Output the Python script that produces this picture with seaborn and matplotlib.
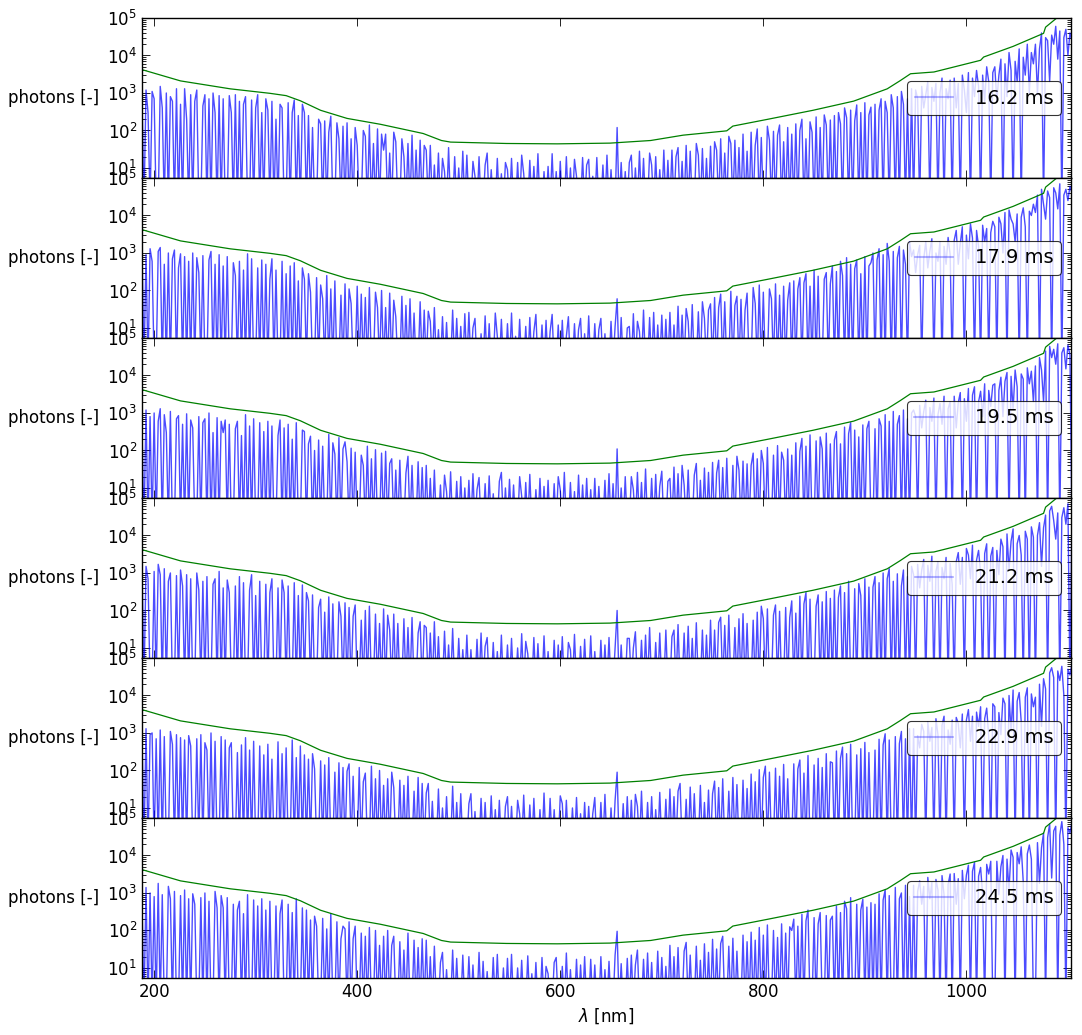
import numpy as np
import matplotlib
matplotlib.use("Agg")
import matplotlib.pyplot as plt
from matplotlib.ticker import LogLocator, NullFormatter
import seaborn as sns

# ---------------- data ----------------
# wavelength grid of the sampled spectra (nm), 2 nm step, 20 samples per row
WL_START = 188
WL_STEP = 2
ROW_LEN = 20

# detection-limit curve (green)
LIMIT_WL = [188, 226, 275, 314, 330, 344, 364, 390, 423, 465, 483, 492, 547, 597,
            649, 689, 721, 761, 764, 770, 804, 849, 889, 922, 935, 945, 968, 1014,
            1017, 1046, 1076, 1078, 1089, 1103]
LIMIT_VAL = [4200, 2100, 1290, 980, 850, 620, 345, 210, 146, 83, 54, 49, 45, 44,
             46, 54, 75, 96, 98, 131, 198, 346, 607, 1290, 2150, 3260, 3630, 7450,
             9100, 17500, 39000, 57000, 100000, 100000]

EXPOSURES = ["16.2 ms", "17.9 ms", "19.5 ms", "21.2 ms", "22.9 ms", "24.5 ms"]

photons_16_2 = [
    [900, 1, 1200, 300, 1, 1100, 700, 1, 1, 1500, 400, 1, 1000, 1, 800, 600, 1, 1300, 1, 500],
    [1, 1300, 200, 1, 900, 1, 600, 1200, 1, 1, 450, 900, 1, 700, 1, 1000, 300, 1, 850, 1],
    [700, 1, 1, 850, 300, 1, 900, 1, 600, 1, 500, 800, 1, 1, 650, 1, 400, 900, 1, 300],
    [1, 700, 350, 1, 600, 1, 200, 1, 500, 400, 1, 1, 550, 1, 300, 650, 1, 250, 1, 500],
    [300, 1, 250, 1, 120, 1, 1, 200, 150, 1, 180, 1, 90, 240, 1, 1, 160, 60, 1, 130],
    [1, 160, 1, 60, 1, 120, 40, 1, 1, 100, 70, 1, 140, 1, 45, 1, 110, 1, 80, 30],
    [80, 1, 25, 1, 90, 50, 1, 1, 60, 20, 1, 45, 1, 75, 1, 30, 1, 55, 1, 40],
    [30, 1, 40, 1, 12, 1, 25, 1, 18, 8, 1, 35, 1, 1, 20, 1, 10, 1, 28, 1],
    [22, 1, 1, 15, 6, 1, 20, 1, 1, 12, 25, 1, 9, 1, 1, 18, 1, 7, 1, 14],
    [9, 1, 18, 1, 1, 14, 1, 22, 7, 1, 1, 16, 1, 11, 1, 24, 1, 1, 8, 1],
    [11, 1, 24, 1, 8, 1, 15, 1, 1, 20, 1, 10, 1, 17, 6, 1, 1, 19, 1, 12],
    [17, 1, 6, 1, 19, 1, 1, 12, 1, 22, 1, 9, 1, 1, 120, 1, 14, 1, 8, 1],
    [14, 22, 1, 10, 1, 28, 1, 18, 1, 1, 25, 12, 1, 20, 1, 9, 1, 30, 1, 16],
    [1, 30, 1, 20, 35, 1, 15, 1, 40, 1, 28, 1, 1, 45, 22, 1, 33, 1, 18, 1],
    [38, 1, 50, 30, 1, 60, 1, 25, 1, 70, 45, 1, 55, 1, 35, 1, 80, 1, 28, 1],
    [90, 1, 40, 110, 1, 65, 1, 1, 130, 55, 1, 95, 1, 75, 140, 1, 50, 1, 120, 1],
    [80, 1, 150, 1, 100, 200, 1, 60, 1, 170, 90, 1, 230, 1, 120, 1, 260, 140, 1, 190],
    [1, 250, 1, 300, 150, 1, 400, 220, 1, 350, 1, 180, 480, 1, 300, 1, 550, 1, 260, 420],
    [1, 500, 1, 350, 700, 1, 600, 300, 1, 900, 400, 1, 800, 1, 1100, 500, 1, 700, 1, 1300],
    [1, 1200, 700, 1, 1500, 400, 900, 2000, 1, 1400, 600, 1800, 1, 1000, 2500, 1, 1300, 700, 2200, 1],
    [2500, 400, 1800, 1, 3000, 1200, 300, 3500, 1, 2500, 800, 4000, 1500, 1, 3000, 600, 5000, 2000, 1, 3500],
    [5000, 600, 3000, 8000, 1, 6000, 800, 12000, 4000, 1, 7000, 2000, 15000, 1, 9000, 3000, 20000, 1000, 12000, 6000],
    [20000, 900, 15000, 40000, 1, 30000, 25000, 2000, 35000, 20000, 60000, 8000, 45000, 1, 30000, 50000, 10000, 40000, 25000, 55000],
]

photons_17_9 = [
    [1800, 1, 900, 1, 1300, 600, 1, 1, 1100, 1400, 1, 500, 1, 1000, 1, 700, 1200, 1, 400, 950],
    [1, 800, 1, 600, 1, 1000, 1, 750, 300, 1, 850, 1, 1, 650, 1100, 1, 500, 1, 900, 1],
    [450, 1, 800, 1, 1, 550, 250, 1, 600, 1, 350, 1, 950, 1, 700, 1, 1, 400, 1, 650],
    [1, 500, 1, 200, 700, 1, 350, 1, 1, 600, 1, 280, 1, 450, 1, 550, 1, 180, 1, 400],
    [200, 1, 280, 90, 1, 1, 220, 1, 140, 60, 1, 250, 1, 110, 1, 180, 1, 1, 75, 1],
    [150, 1, 110, 45, 1, 1, 130, 1, 80, 1, 65, 1, 120, 1, 1, 90, 35, 1, 100, 1],
    [35, 1, 85, 1, 55, 20, 1, 1, 70, 1, 40, 1, 60, 1, 25, 1, 1, 50, 1, 30],
    [1, 28, 15, 1, 35, 1, 9, 1, 20, 1, 14, 1, 1, 30, 1, 18, 1, 11, 1, 24],
    [1, 26, 1, 10, 18, 1, 1, 7, 1, 21, 1, 13, 1, 1, 25, 6, 1, 17, 1, 1],
    [13, 1, 25, 1, 6, 1, 17, 1, 1, 11, 1, 19, 1, 8, 23, 1, 1, 12, 1, 16],
    [1, 8, 23, 1, 1, 12, 1, 16, 1, 6, 20, 1, 1, 13, 1, 9, 18, 1, 7, 1],
    [21, 1, 1, 13, 1, 9, 18, 1, 7, 1, 1, 15, 1, 11, 60, 1, 19, 1, 1, 10],
    [11, 1, 24, 1, 15, 8, 1, 30, 1, 1, 19, 1, 26, 1, 12, 1, 22, 1, 17, 1],
    [26, 1, 12, 1, 38, 1, 22, 1, 33, 15, 1, 42, 1, 1, 27, 1, 50, 18, 1, 30],
    [44, 1, 65, 1, 35, 80, 1, 50, 1, 1, 95, 1, 40, 70, 1, 58, 1, 30, 85, 1],
    [1, 120, 45, 1, 140, 1, 90, 1, 1, 110, 60, 1, 150, 1, 75, 1, 130, 1, 55, 160],
    [1, 180, 1, 110, 220, 1, 160, 280, 1, 130, 1, 350, 1, 240, 1, 1, 200, 300, 1, 150],
    [450, 1, 320, 1, 600, 250, 1, 750, 1, 500, 1, 380, 650, 1, 280, 1, 800, 1, 450, 550],
    [1000, 1, 650, 1300, 1, 900, 1, 1800, 600, 1, 1100, 1, 750, 1500, 1, 1200, 500, 1, 2000, 800],
    [1200, 300, 900, 1600, 1, 700, 2000, 400, 1100, 2400, 1, 1000, 600, 2000, 1, 1500, 500, 2600, 900, 1],
    [2200, 4000, 500, 1800, 5000, 1, 3000, 700, 6000, 2500, 1, 4000, 1500, 1, 5500, 2000, 4500, 1, 3500, 7000],
    [5000, 1, 9000, 6000, 1000, 12000, 1, 14000, 8000, 6000, 2000, 11000, 1, 9000, 16000, 5000, 1, 13000, 10000, 20000],
    [12000, 35000, 1, 50000, 20000, 8000, 45000, 30000, 1, 55000, 40000, 15000, 70000, 1, 35000, 50000, 25000, 60000, 40000, 30000],
]

photons_19_5 = [
    [400, 1, 1200, 1, 800, 1, 1000, 1, 600, 1300, 1, 900, 300, 1, 1100, 1, 1, 700, 850, 1],
    [500, 1, 950, 1, 650, 400, 1, 1, 800, 1, 550, 700, 1, 1000, 1, 300, 1, 750, 1, 600],
    [300, 650, 1, 500, 1, 1, 380, 600, 1, 250, 1, 900, 1, 450, 1, 700, 1, 1, 550, 1],
    [320, 1, 600, 1, 450, 1, 1, 250, 650, 1, 400, 1, 500, 1, 200, 1, 550, 1, 1, 350],
    [320, 1, 150, 240, 1, 100, 1, 190, 1, 130, 1, 1, 270, 1, 160, 80, 1, 220, 1, 110],
    [170, 50, 1, 115, 1, 90, 1, 1, 75, 40, 1, 130, 1, 60, 1, 105, 1, 1, 85, 1],
    [95, 1, 45, 60, 1, 30, 1, 55, 1, 1, 25, 70, 1, 40, 1, 1, 50, 1, 35, 1],
    [40, 1, 18, 1, 30, 1, 1, 12, 1, 22, 8, 1, 27, 1, 1, 15, 1, 20, 1, 10],
    [1, 16, 1, 24, 1, 9, 19, 1, 1, 13, 1, 21, 1, 7, 1, 1, 15, 26, 1, 10],
    [1, 17, 1, 12, 1, 1, 20, 6, 1, 14, 1, 23, 1, 1, 9, 1, 18, 1, 11, 1],
    [16, 1, 1, 13, 1, 20, 9, 1, 26, 1, 1, 14, 1, 8, 1, 22, 1, 12, 1, 18],
    [1, 9, 1, 18, 1, 11, 1, 1, 16, 1, 24, 1, 13, 1, 110, 1, 10, 1, 20, 1],
    [1, 20, 9, 1, 26, 1, 14, 1, 32, 1, 1, 18, 1, 23, 1, 11, 28, 1, 1, 15],
    [18, 1, 36, 1, 24, 1, 40, 12, 1, 30, 1, 1, 22, 45, 1, 16, 1, 34, 1, 26],
    [1, 48, 1, 25, 55, 1, 35, 1, 62, 1, 1, 40, 1, 70, 30, 1, 52, 1, 44, 1],
    [40, 85, 1, 60, 1, 100, 45, 1, 120, 1, 1, 75, 1, 135, 1, 90, 55, 1, 110, 1],
    [75, 1, 160, 1, 95, 210, 1, 130, 1, 260, 1, 1, 180, 1, 230, 110, 1, 290, 1, 150],
    [1, 190, 320, 1, 150, 1, 420, 1, 280, 550, 1, 350, 1, 230, 1, 480, 1, 380, 600, 1],
    [1, 380, 1, 700, 450, 1, 900, 1, 600, 1, 1100, 1, 500, 850, 1, 1200, 1, 700, 1, 1000],
    [1200, 800, 1, 1600, 400, 1100, 2200, 1, 1400, 600, 2500, 1, 900, 1800, 500, 2800, 1, 1300, 2000, 1],
    [2800, 400, 1900, 3500, 1, 2400, 600, 4500, 1, 3000, 5000, 1, 2000, 3800, 800, 6000, 1, 4000, 1500, 5500],
    [6000, 1, 4000, 9000, 800, 7000, 12000, 1, 9500, 1200, 14000, 5000, 1, 11000, 8000, 1, 16000, 6000, 13000, 2000],
    [18000, 1, 30000, 14000, 2000, 45000, 1, 60000, 30000, 50000, 20000, 70000, 1, 40000, 55000, 15000, 65000, 35000, 1, 50000],
]

photons_21_2 = [
    [2000, 1, 1500, 700, 1, 1, 1100, 1, 1700, 900, 1, 1300, 1, 600, 1000, 1, 1, 850, 1, 1200],
    [450, 1, 900, 1, 700, 1, 1, 1000, 350, 1, 600, 1, 800, 1, 1, 500, 700, 1, 1100, 1],
    [400, 1, 650, 300, 1, 1, 450, 1, 800, 1, 550, 1, 1, 350, 900, 1, 250, 1, 600, 1],
    [1, 500, 1, 300, 700, 1, 1, 400, 1, 650, 300, 1, 450, 1, 1, 550, 1, 250, 1, 480],
    [1, 300, 180, 1, 260, 1, 1, 120, 200, 1, 90, 1, 230, 1, 150, 1, 1, 170, 70, 1],
    [160, 1, 120, 1, 70, 140, 1, 1, 55, 1, 100, 1, 130, 1, 1, 80, 1, 45, 1, 110],
    [1, 75, 30, 1, 80, 1, 45, 1, 1, 60, 1, 35, 1, 65, 1, 1, 25, 50, 1, 40],
    [35, 1, 25, 1, 50, 1, 20, 1, 1, 28, 1, 12, 1, 33, 1, 1, 18, 1, 9, 1],
    [22, 1, 9, 1, 1, 17, 1, 25, 1, 11, 19, 1, 1, 14, 1, 8, 1, 22, 1, 1],
    [12, 1, 18, 1, 1, 10, 1, 24, 1, 15, 7, 1, 1, 19, 1, 13, 1, 1, 21, 1],
    [8, 1, 1, 16, 1, 12, 1, 20, 1, 1, 14, 9, 1, 23, 1, 1, 11, 1, 17, 1],
    [1, 21, 1, 8, 1, 1, 16, 1, 12, 1, 19, 1, 1, 10, 100, 1, 12, 1, 1, 18],
    [18, 1, 10, 27, 1, 1, 16, 1, 22, 1, 35, 1, 1, 14, 1, 25, 1, 1, 30, 1],
    [1, 20, 30, 1, 42, 1, 1, 25, 1, 38, 1, 18, 1, 47, 1, 1, 30, 1, 22, 1],
    [55, 1, 30, 1, 48, 66, 1, 40, 1, 75, 1, 1, 35, 1, 60, 1, 82, 1, 45, 1],
    [1, 55, 1, 90, 1, 130, 60, 1, 110, 1, 1, 75, 140, 1, 95, 1, 1, 120, 1, 65],
    [180, 1, 85, 1, 240, 1, 150, 300, 1, 200, 1, 1, 130, 260, 1, 170, 1, 320, 1, 210],
    [1, 350, 1, 220, 450, 1, 300, 1, 600, 1, 1, 380, 1, 520, 250, 1, 700, 1, 420, 1],
    [420, 800, 1, 550, 1, 1000, 1, 700, 1300, 1, 600, 1, 950, 1, 450, 1200, 1, 800, 1, 1500],
    [900, 1, 1700, 400, 1200, 2300, 1, 1600, 600, 2800, 1, 1100, 2000, 1, 1400, 700, 2600, 1, 1800, 500],
    [1, 2000, 3500, 500, 2600, 1, 4500, 3000, 700, 5500, 1, 2200, 4000, 1000, 1, 3300, 6000, 1, 2800, 4800],
    [1, 4000, 900, 8000, 5000, 1, 11000, 1200, 7000, 15000, 1, 6000, 10000, 3000, 1, 13000, 8000, 1, 17000, 9000],
    [1, 10000, 22000, 1500, 16000, 35000, 1, 45000, 60000, 25000, 8000, 40000, 1, 30000, 55000, 20000, 70000, 1, 45000, 35000],
]

photons_22_9 = [
    [1100, 1, 1300, 1, 900, 1000, 1, 700, 1, 1200, 1, 800, 1, 1, 1100, 500, 1, 900, 1, 750],
    [1, 650, 1, 850, 450, 1, 1, 700, 1, 900, 1, 550, 350, 1, 1000, 1, 600, 1, 1, 800],
    [1, 650, 1, 400, 550, 1, 1, 300, 1, 480, 1, 750, 1, 350, 1, 600, 1, 1, 450, 1],
    [260, 1, 500, 1, 200, 1, 1, 580, 1, 280, 1, 400, 1, 1, 650, 1, 220, 1, 450, 1],
    [260, 1, 200, 1, 280, 110, 1, 1, 180, 1, 140, 1, 220, 1, 1, 90, 1, 160, 1, 120],
    [1, 95, 150, 1, 70, 1, 1, 120, 1, 50, 85, 1, 1, 130, 1, 60, 1, 100, 1, 40],
    [1, 60, 1, 90, 35, 1, 1, 55, 1, 40, 1, 70, 1, 1, 28, 1, 65, 1, 45, 1],
    [25, 45, 1, 15, 1, 1, 32, 1, 10, 1, 20, 1, 1, 38, 1, 14, 1, 24, 1, 1],
    [1, 13, 24, 1, 8, 1, 1, 18, 1, 14, 1, 1, 21, 1, 9, 1, 16, 1, 1, 11],
    [20, 1, 11, 1, 1, 16, 7, 1, 22, 1, 1, 12, 1, 18, 1, 1, 9, 1, 25, 1],
    [1, 18, 1, 9, 1, 1, 21, 13, 1, 16, 1, 1, 10, 1, 19, 1, 7, 1, 14, 1],
    [11, 1, 7, 19, 1, 1, 14, 1, 23, 1, 1, 10, 1, 16, 90, 1, 1, 13, 1, 20],
    [1, 16, 1, 23, 11, 1, 28, 1, 1, 14, 1, 20, 1, 9, 1, 26, 1, 1, 17, 1],
    [32, 1, 20, 1, 28, 45, 1, 1, 17, 1, 36, 1, 24, 1, 1, 40, 1, 14, 1, 30],
    [1, 24, 52, 1, 35, 1, 60, 1, 1, 28, 1, 65, 1, 42, 1, 1, 55, 1, 33, 1],
    [80, 1, 50, 1, 105, 1, 65, 130, 1, 90, 1, 1, 115, 1, 70, 1, 145, 1, 60, 1],
    [1, 150, 1, 110, 190, 1, 85, 1, 250, 1, 1, 140, 1, 210, 1, 120, 1, 280, 1, 170],
    [160, 1, 330, 1, 210, 420, 1, 280, 1, 500, 1, 1, 260, 1, 380, 1, 560, 1, 300, 1],
    [1, 350, 1, 680, 1, 480, 950, 1, 650, 1, 1, 800, 1, 520, 1100, 1, 700, 1, 1300, 1],
    [1300, 1, 850, 400, 1700, 1100, 1, 2000, 600, 1400, 1, 2400, 900, 1, 1600, 2800, 1, 1200, 500, 2200],
    [1, 2600, 1800, 400, 3200, 1, 2200, 4200, 600, 2800, 1, 3600, 1500, 5000, 1, 2400, 4600, 800, 1, 6000],
    [5000, 1, 3500, 900, 8500, 6000, 1, 10000, 1100, 14000, 1, 7000, 12000, 2000, 1, 9000, 16000, 1, 11000, 5000],
    [9000, 1, 20000, 1500, 28000, 15000, 1, 40000, 55000, 30000, 1, 45000, 25000, 60000, 10000, 1, 50000, 35000, 70000, 40000],
]

photons_24_5 = [
    [600, 1, 1400, 1, 1000, 1, 800, 1, 1800, 1, 900, 1, 1, 1500, 700, 1, 1100, 1, 1, 850],
    [1, 1200, 1, 700, 1, 950, 500, 1, 1, 750, 1, 1000, 1, 600, 1, 1, 1100, 400, 1, 850],
    [400, 1, 750, 1, 1, 500, 1, 350, 600, 1, 280, 1, 900, 1, 1, 650, 1, 450, 1, 700],
    [1, 350, 1, 600, 1, 1, 450, 1, 280, 650, 1, 1, 500, 1, 300, 1, 700, 1, 1, 400],
    [1, 350, 1, 190, 1, 240, 130, 1, 1, 210, 1, 110, 1, 280, 1, 1, 170, 1, 60, 130],
    [110, 1, 170, 1, 60, 130, 1, 1, 85, 1, 70, 1, 120, 1, 1, 100, 1, 40, 1, 70],
    [1, 100, 1, 40, 70, 1, 1, 50, 1, 30, 1, 85, 1, 1, 55, 1, 35, 1, 60, 1],
    [55, 1, 20, 1, 38, 1, 1, 14, 26, 1, 9, 1, 1, 30, 1, 18, 1, 1, 22, 1],
    [1, 20, 1, 12, 1, 1, 26, 1, 15, 1, 8, 1, 1, 19, 1, 23, 1, 1, 10, 1],
    [18, 1, 23, 1, 1, 10, 1, 16, 1, 1, 21, 1, 7, 1, 14, 1, 1, 19, 1, 11],
    [7, 1, 1, 14, 19, 1, 1, 11, 1, 25, 1, 9, 1, 1, 17, 1, 12, 1, 20, 1],
    [1, 17, 1, 12, 1, 1, 20, 1, 9, 1, 15, 1, 1, 22, 95, 1, 13, 1, 1, 18],
    [1, 22, 1, 12, 30, 1, 1, 17, 1, 25, 1, 14, 1, 1, 28, 1, 19, 1, 11, 1],
    [40, 1, 20, 1, 35, 1, 1, 28, 48, 1, 22, 1, 1, 38, 1, 16, 1, 44, 1, 26],
    [1, 58, 1, 32, 1, 45, 70, 1, 1, 38, 1, 62, 1, 28, 1, 1, 75, 1, 50, 1],
    [90, 1, 55, 1, 120, 1, 75, 1, 140, 1, 1, 100, 1, 65, 1, 150, 1, 85, 1, 125],
    [100, 200, 1, 130, 1, 270, 1, 180, 350, 1, 1, 220, 1, 150, 300, 1, 1, 250, 1, 190],
    [240, 1, 450, 1, 300, 1, 600, 380, 1, 750, 1, 1, 500, 1, 350, 680, 1, 420, 1, 550],
    [1, 500, 1, 950, 1, 650, 1200, 1, 850, 1, 1, 1400, 1, 700, 1000, 1, 1600, 1, 800, 1],
    [1600, 1, 1100, 2100, 500, 1500, 1, 2600, 700, 1900, 1, 2300, 1200, 1, 2900, 900, 1, 1700, 3200, 1],
    [3300, 500, 2400, 1, 4000, 700, 3000, 5500, 1, 3800, 6500, 1, 2800, 4800, 900, 1, 5800, 3200, 7000, 1],
    [1, 7000, 900, 5000, 10000, 1, 8000, 1200, 14000, 9000, 1, 12000, 6000, 17000, 2000, 1, 11000, 19000, 8000, 1],
    [1, 22000, 1800, 16000, 40000, 1, 30000, 70000, 2500, 45000, 60000, 1, 35000, 80000, 20000, 1, 55000, 40000, 75000, 50000],
]

PANELS = [photons_16_2, photons_17_9, photons_19_5,
          photons_21_2, photons_22_9, photons_24_5]

# ---------------- style ----------------
sns.set_style("ticks", {"xtick.direction": "in", "ytick.direction": "in",
                        "axes.edgecolor": "black"})
plt.rcParams["font.family"] = ["DejaVu Sans"]
plt.rcParams.update({
    "font.size": 12,
    "text.color": "black",
    "xtick.top": True, "ytick.right": True,
    "xtick.major.size": 5.5, "ytick.major.size": 5.5,
    "ytick.minor.size": 2.8, "xtick.minor.size": 2.8,
    "xtick.major.width": 0.6, "ytick.major.width": 0.6,
    "ytick.minor.width": 0.6,
    "axes.linewidth": 1.0,
    "xtick.labelsize": 12, "ytick.labelsize": 12,
    "xtick.color": "black", "ytick.color": "black",
    "axes.labelcolor": "black",
})

fig, axes = plt.subplots(6, 1, sharex=True, figsize=(10.82, 10.35), dpi=100)
fig.subplots_adjust(left=0.1312, right=0.9898, top=0.9826, bottom=0.0551, hspace=0)

for ax, rows, lab in zip(axes, PANELS, EXPOSURES):
    for r, row in enumerate(rows):
        assert len(row) == ROW_LEN, (lab, r, len(row))
    vals = np.concatenate([np.asarray(row, dtype=float) for row in rows])
    wl = WL_START + WL_STEP * np.arange(len(vals))
    sns.lineplot(x=wl, y=vals, ax=ax, color=(0, 0, 1), lw=1.0, alpha=0.7,
                 estimator=None, sort=False, label=lab)
    sns.lineplot(x=LIMIT_WL, y=LIMIT_VAL, ax=ax, color=(0, 0.5, 0), lw=0.9,
                 estimator=None, sort=False, legend=False)
    ax.set_yscale("log")
    ax.set_ylim(5.4, 1e5)
    ax.set_xlim(188, 1103)
    ax.set_xticks([200, 400, 600, 800, 1000])
    ax.yaxis.set_major_locator(LogLocator(base=10, numticks=15))
    ax.yaxis.set_minor_locator(LogLocator(base=10, subs=np.arange(2, 10), numticks=15))
    ax.yaxis.set_minor_formatter(NullFormatter())
    ax.set_ylabel("photons [-]", rotation=0, ha="right", va="center", labelpad=6)
    ax.tick_params(axis="both", which="both", direction="in", top=True, right=True)
    for s in ax.spines.values():
        s.set_visible(True)
        s.set_color("black")
    leg = ax.legend(loc="center right", fontsize=14, fancybox=True, framealpha=0.8,
                    handlelength=2.0, handletextpad=1.1, borderpad=0.4)
    leg.get_frame().set_edgecolor("black")
    leg.get_frame().set_linewidth(0.8)
    for h in leg.get_lines():
        h.set_linewidth(1.5)
        h.set_alpha(0.3)
    for t in leg.get_texts():
        t.set_color("black")

axes[-1].set_xlabel(r"$\lambda$ [nm]", fontsize=12)

fig.savefig("out.png", dpi=100)
